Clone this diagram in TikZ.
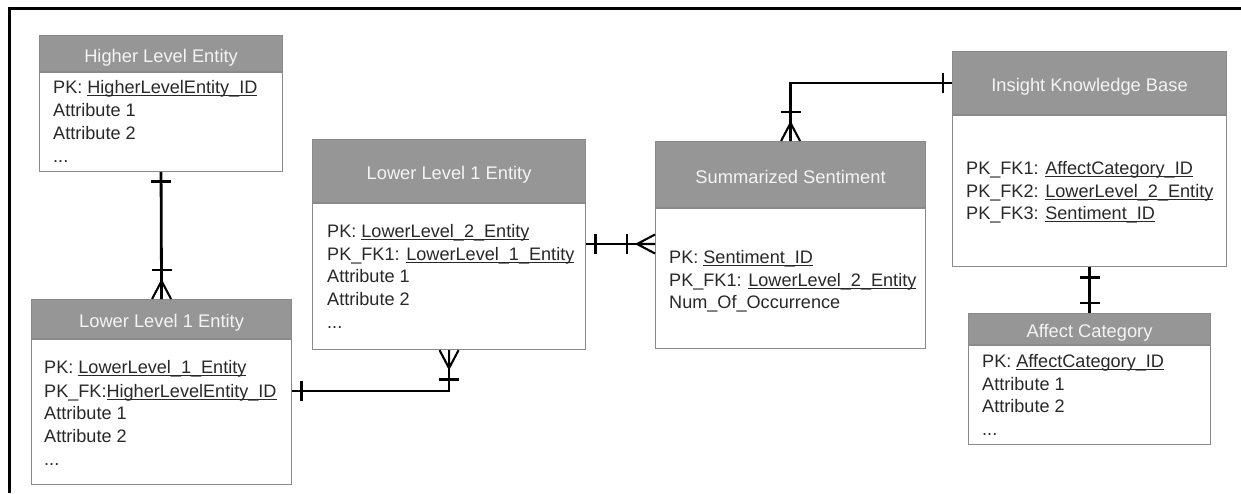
\documentclass[tikz,border=0pt]{standalone}
\usepackage{fontspec}
\setmainfont{Liberation Sans}
\usetikzlibrary{calc}

\definecolor{hdrgray}{RGB}{150,150,150}
\definecolor{boxline}{RGB}{138,138,138}
\definecolor{hdrtext}{RGB}{244,244,244}
\definecolor{bodytext}{RGB}{40,40,40}

% key attribute: underline at a fixed depth below the baseline
\newlength\keyulwidth
\newcommand\keyattr[1]{\settowidth\keyulwidth{#1}\rlap{\rule[-2.6pt]{\keyulwidth}{0.9pt}}#1}

\tikzset{
  hdr/.style={draw=boxline, line width=1.1pt, fill=hdrgray, text=hdrtext,
    anchor=north west, inner sep=0pt, font=\fontsize{18.3}{22}\selectfont,
    text height=17pt, text depth=0pt},
  entbody/.style={draw=boxline, line width=1.1pt, fill=white, anchor=north,
    inner sep=0pt},
  attr/.style={anchor=base west, inner sep=0pt, text=bodytext,
    font=\fontsize{18.1}{22}\selectfont},
  erline/.style={line width=2.8pt, black},
  erfoot/.style={line width=2.1pt, black},
  onebar/.pic={\draw[erline] (0,-10) -- (0,10);},
  crowfoot/.pic={\draw[erfoot] (0,9.5) -- (-18,0) -- (0,-9.5) (0,0) -- (-18,0);}
}

\begin{document}
\begin{tikzpicture}[x=1pt,y=1pt]
\useasboundingbox (0,0) rectangle (1241,-493);

% page frame (top and left rules)
\draw[line width=3pt] (1241,-8) -- (9,-8) -- (9,-493);

% ---------- Higher Level Entity ----------
\node[hdr, minimum width=243, minimum height=36] (hleh) at (39,-35) {Higher Level Entity};
\node[entbody, minimum width=243, minimum height=99] (hleb) at (hleh.south) {};
\node[attr] (hle1) at (53,-93)  {PK: \keyattr{HigherLevelEntity\_ID}};
\node[attr] (hle2) at (53,-116) {Attribute 1};
\node[attr] (hle3) at (53,-139) {Attribute 2};
\node[attr] (hle4) at (53,-162) {...};

% ---------- Lower Level 1 Entity (left) ----------
\node[hdr, minimum width=260, minimum height=39] (llah) at (31,-299) {Lower Level 1 Entity};
\node[entbody, minimum width=260, minimum height=145] (llab) at (llah.south) {};
\node[attr] (lla1) at (44,-373) {PK: \keyattr{LowerLevel\_1\_Entity}};
\node[attr] (lla2) at (44,-397) {PK\_FK:\keyattr{HigherLevelEntity\_ID}};
\node[attr] (lla3) at (44,-419) {Attribute 1};
\node[attr] (lla4) at (44,-442) {Attribute 2};
\node[attr] (lla5) at (44,-465) {...};

% ---------- Lower Level 1 Entity (middle) ----------
\node[hdr, minimum width=273, minimum height=63] (llbh) at (312,-139) {Lower Level 1 Entity};
\node[entbody, minimum width=273, minimum height=146] (llbb) at (llbh.south) {};
\node[attr] (llb1) at (327,-237) {PK: \keyattr{LowerLevel\_2\_Entity}};
\node[attr] (llb2) at (327,-260) {PK\_FK1: \keyattr{LowerLevel\_1\_Entity}};
\node[attr] (llb3) at (327,-282) {Attribute 1};
\node[attr] (llb4) at (327,-305) {Attribute 2};
\node[attr] (llb5) at (327,-328) {...};

% ---------- Summarized Sentiment ----------
\node[hdr, minimum width=270, minimum height=66] (ssh) at (655,-141) {Summarized Sentiment};
\node[entbody, minimum width=270, minimum height=140] (ssb) at (ssh.south) {};
\node[attr] (ss1) at (669,-263) {PK: \keyattr{Sentiment\_ID}};
\node[attr] (ss2) at (669,-286) {PK\_FK1: \keyattr{LowerLevel\_2\_Entity}};
\node[attr] (ss3) at (669,-308) {Num\_Of\_Occurrence};

% ---------- Insight Knowledge Base ----------
\node[hdr, minimum width=274, minimum height=63] (ikbh) at (952,-51) {Insight Knowledge Base};
\node[entbody, minimum width=274, minimum height=151] (ikbb) at (ikbh.south) {};
\node[attr] (ikb1) at (966,-174) {PK\_FK1: \keyattr{AffectCategory\_ID}};
\node[attr] (ikb2) at (966,-197) {PK\_FK2: \keyattr{LowerLevel\_2\_Entity}};
\node[attr] (ikb3) at (966,-219) {PK\_FK3: \keyattr{Sentiment\_ID}};

% ---------- Affect Category ----------
\node[hdr, minimum width=242, minimum height=31] (acth) at (968,-313) {Affect Category};
\node[entbody, minimum width=242, minimum height=99] (actb) at (acth.south) {};
\node[attr] (act1) at (982,-367) {PK: \keyattr{AffectCategory\_ID}};
\node[attr] (act2) at (982,-390) {Attribute 1};
\node[attr] (act3) at (982,-412) {Attribute 2};
\node[attr] (act4) at (982,-435) {...};

% ---------- relationships ----------
\coordinate (jA) at (0,-391);
\coordinate (jB) at (0,-244);

% Higher Level Entity 1 -- N Lower Level 1 Entity
\draw[erline] (hleb.south) -- (llah.north);
\path ($(hleb.south)+(0,-9)$) pic[rotate=90] {onebar};
\path ($(llah.north)+(0,29)$) pic[rotate=90] {onebar};
\path (llah.north) pic[rotate=-90] {crowfoot};

% Lower Level 1 Entity (left) 1 -- N Lower Level 1 Entity (middle)
\draw[erline] (llab.east |- jA) -| (llbb.south);
\path ($(llab.east |- jA)+(9,0)$) pic {onebar};
\path ($(llbb.south)+(0,-29)$) pic[rotate=90] {onebar};
\path (llbb.south) pic[rotate=90] {crowfoot};

% Lower Level 1 Entity (middle) 1 -- N Summarized Sentiment
\draw[erline] (llbb.east |- jB) -- (ssb.west |- jB);
\path ($(llbb.east |- jB)+(9,0)$) pic {onebar};
\path ($(ssb.west |- jB)+(-28,0)$) pic {onebar};
\path (ssb.west |- jB) pic {crowfoot};

% Insight Knowledge Base 1 -- N Summarized Sentiment
\draw[erline] (ssh.north) |- (ikbh.west);
\path ($(ikbh.west)+(-9,0)$) pic {onebar};
\path ($(ssh.north)+(0,29)$) pic[rotate=90] {onebar};
\path (ssh.north) pic[rotate=-90] {crowfoot};

% Insight Knowledge Base 1 -- 1 Affect Category
\draw[erline] (ikbb.south) -- (acth.north);
\path ($(ikbb.south)+(0,-10)$) pic[rotate=90] {onebar};
\path ($(acth.north)+(0,10)$) pic[rotate=90] {onebar};
\end{tikzpicture}
\end{document}
